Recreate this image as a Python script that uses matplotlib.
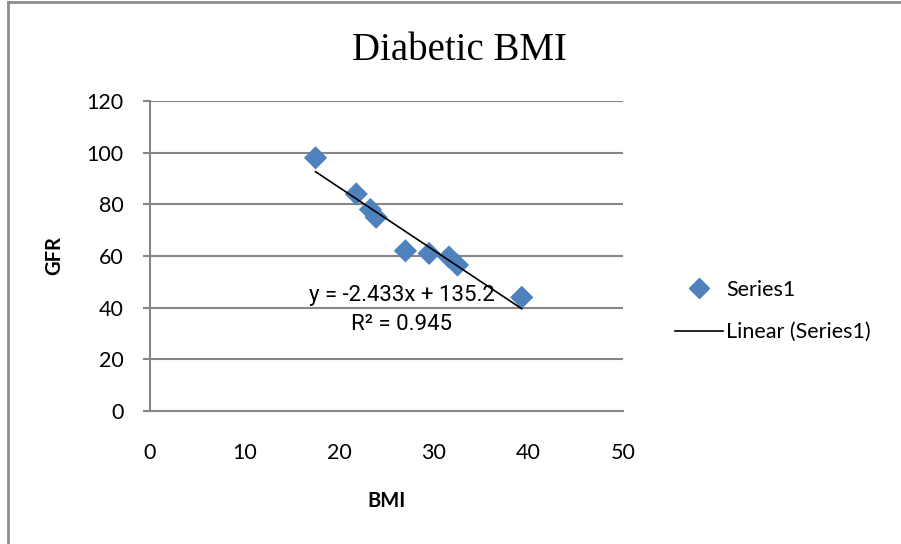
import numpy as np
import matplotlib.pyplot as plt
from matplotlib.lines import Line2D

# BMI vs GFR for the diabetic group
bmi = [17.5, 21.8, 23.3, 23.9, 27.0, 29.5, 31.6, 32.5, 39.3]
gfr = [98, 84, 78, 75, 62, 61, 59.6, 56.5, 44]

# linear trendline as reported
slope = -2.433
intercept = 135.2
r2 = 0.945

x_ticks = [0, 10, 20, 30, 40, 50]
y_ticks = [0, 20, 40, 60, 80, 100, 120]

blue = '#4F81BD'
grey = '#868686'
tick_font = 'Lato'

fig = plt.figure(figsize=(9.01, 5.44), dpi=100)
# outer chart frame: only the left and top edges are inside the image
fig.add_artist(Line2D([8 / 901, 8 / 901], [0, 1 - 2 / 544], transform=fig.transFigure,
                      color='#8c8c8c', linewidth=2))
fig.add_artist(Line2D([8 / 901, 1], [1 - 2 / 544, 1 - 2 / 544], transform=fig.transFigure,
                      color='#8c8c8c', linewidth=2))

ax = fig.add_axes([150 / 901, 1 - 411 / 544, 473 / 901, 310 / 544])

ax.scatter(bmi, gfr, marker='D', s=140, color=blue, edgecolors='none', zorder=3)

xs = np.array([min(bmi), max(bmi)])
ax.plot(xs, slope * xs + intercept, color='black', linewidth=1.2, zorder=4)

ax.set_xlim(0, 50)
ax.set_ylim(0, 120)
ax.set_xticks(x_ticks)
ax.set_yticks(y_ticks)
ax.yaxis.grid(True, color=grey, linewidth=1.5)
ax.set_axisbelow(True)
for side in ['top', 'right']:
    ax.spines[side].set_visible(False)
for side in ['left', 'bottom']:
    ax.spines[side].set_color(grey)
    ax.spines[side].set_linewidth(1.5)
ax.tick_params(axis='y', length=5, width=1.5, color=grey, pad=14, labelsize=15.5)
ax.tick_params(axis='x', length=0, pad=23, labelsize=15.5)
for lab in ax.get_xticklabels() + ax.get_yticklabels():
    lab.set_fontfamily(tick_font)

ax.text(26.6, 44.9, 'y = -2.433x + 135.2', ha='center', va='center',
        fontsize=16, family='Roboto', zorder=5)
ax.text(26.6, 33.3, 'R² = 0.945', ha='center', va='center',
        fontsize=16, family='Roboto', zorder=5)

ax.set_xlabel('BMI', fontsize=14.5, fontweight='bold', family=tick_font, labelpad=20)
ax.set_ylabel('GFR', fontsize=14.5, fontweight='bold', family=tick_font, labelpad=16)

fig.text(459 / 901, 1 - 50 / 544, 'Diabetic BMI', ha='center', va='center',
         fontsize=28, family='Liberation Serif')

handles = [Line2D([], [], marker='D', linestyle='none', color=blue, markersize=10),
           Line2D([], [], color='black', linewidth=1.2)]
fig.legend(handles, ['Series1', 'Linear (Series1)'], loc='center left',
           bbox_to_anchor=(656 / 901, 1 - 311 / 544), frameon=False,
           prop={'family': tick_font, 'size': 15.5}, handlelength=2.2,
           handletextpad=0.15, labelspacing=1.05)

fig.savefig('out.png', dpi=100)
